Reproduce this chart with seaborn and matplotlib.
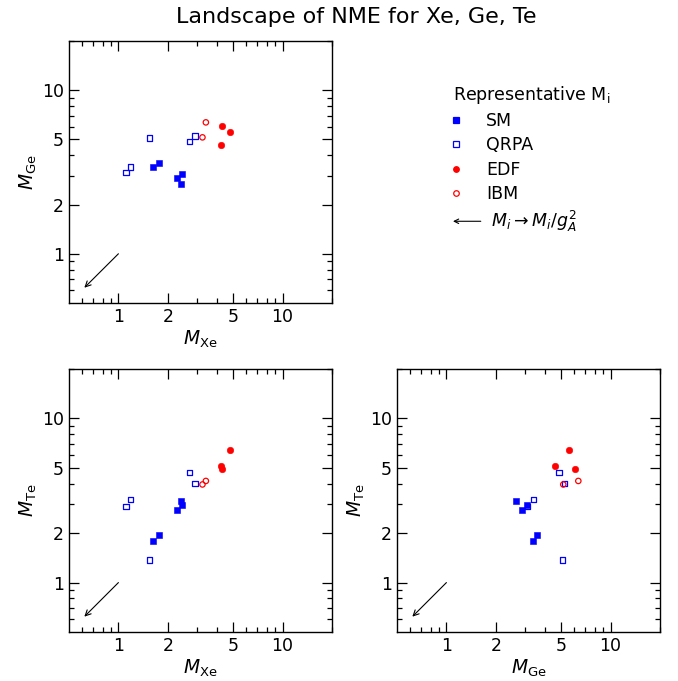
import numpy as np
import pandas as pd
import matplotlib
matplotlib.use("Agg")
import matplotlib.pyplot as plt
import matplotlib.ticker as mticker
from matplotlib.lines import Line2D
from matplotlib.patches import FancyArrowPatch
from matplotlib.legend_handler import HandlerLine2D, HandlerBase
import seaborn as sns

# Nuclear matrix elements per model: (Xe, Ge, Te) for each calculation
models = ["SM"] * 5 + ["QRPA"] * 5 + ["EDF"] * 3 + ["IBM"] * 2
m_xe = [1.63, 1.76, 2.28, 2.45, 2.40,
        1.11, 1.18, 1.55, 2.72, 2.92,
        4.25, 4.81, 4.21,
        3.25, 3.41]
m_ge = [3.38, 3.58, 2.90, 3.08, 2.67,
        3.13, 3.40, 5.10, 4.85, 5.25,
        6.04, 5.55, 4.61,
        5.15, 6.36]
m_te = [1.80, 1.94, 2.77, 2.96, 3.16,
        2.91, 3.22, 1.37, 4.68, 4.01,
        4.90, 6.39, 5.14,
        3.96, 4.16]

g_A = 1.27
axis_limits = (0.5, 20)
major_ticks = [1, 2, 5, 10]
minor_ticks = [0.6, 0.7, 0.8, 0.9, 3, 4, 6, 7, 8, 9, 20]

df = pd.DataFrame({"model": models, "Xe": m_xe, "Ge": m_ge, "Te": m_te})

styles = {
    "SM":   dict(marker="s", color="#0000ff", filled=True),
    "QRPA": dict(marker="s", color="#0000ff", filled=False),
    "EDF":  dict(marker="o", color="#ff0000", filled=True),
    "IBM":  dict(marker="o", color="#ff0000", filled=False),
}

plt.rcParams["font.family"] = ["DejaVu Sans"]
plt.rcParams["mathtext.fontset"] = "dejavusans"

fig = plt.figure(figsize=(6.78, 6.81), dpi=100)
W, H = 678, 681


def add_axes_px(left, top, right, bottom):
    return fig.add_axes([left / W, 1 - bottom / H, (right - left) / W, (bottom - top) / H])


panels = [
    (add_axes_px(69, 41, 332, 303), "Xe", "Ge"),
    (add_axes_px(69, 369, 332, 632), "Xe", "Te"),
    (add_axes_px(397, 369, 660, 632), "Ge", "Te"),
]

for ax, xk, yk in panels:
    for name, st in styles.items():
        sub = df[df["model"] == name]
        if st["filled"]:
            sns.scatterplot(data=sub, x=xk, y=yk, ax=ax, marker=st["marker"],
                            s=22, color=st["color"], edgecolor=st["color"],
                            linewidth=0.4, legend=False, zorder=3)
        else:
            sns.scatterplot(data=sub, x=xk, y=yk, ax=ax, marker=st["marker"],
                            s=15, facecolor="none", edgecolor=st["color"],
                            linewidth=0.9, legend=False, zorder=3)
    ax.set_xscale("log")
    ax.set_yscale("log")
    ax.set_xlim(*axis_limits)
    ax.set_ylim(*axis_limits)
    for axis in (ax.xaxis, ax.yaxis):
        axis.set_major_locator(mticker.FixedLocator(major_ticks))
        axis.set_major_formatter(mticker.FixedFormatter([str(t) for t in major_ticks]))
        axis.set_minor_locator(mticker.FixedLocator(minor_ticks))
        axis.set_minor_formatter(mticker.NullFormatter())
    ax.tick_params(which="both", direction="in", top=True, right=True, width=0.9)
    ax.tick_params(which="major", length=7, labelsize=12.5)
    ax.tick_params(which="minor", length=3.5)
    for sp in ax.spines.values():
        sp.set_linewidth(1.0)
    ax.set_xlabel(rf"$M_\mathrm{{{xk}}}$", fontsize=13.5, labelpad=2)
    ax.set_ylabel(rf"$M_\mathrm{{{yk}}}$", fontsize=13.5, labelpad=2.5)
    # effect of quenching: M -> M / g_A^2
    ax.annotate("", xy=(1 / g_A**2, 1 / g_A**2), xytext=(1, 1),
                arrowprops=dict(arrowstyle="->", lw=0.8, color="black",
                                shrinkA=0, shrinkB=0))

fig.suptitle("Landscape of NME for Xe, Ge, Te", fontsize=16, x=356 / W, y=0.99)


class LeftMarkerHandler(HandlerLine2D):
    """Single legend marker placed near the left end of the handle box."""
    def create_artists(self, legend, orig_handle, xdescent, ydescent,
                       width, height, fontsize, trans):
        x = -xdescent + 0.12 * width
        y = (height - ydescent) / 2
        mark = Line2D([x], [y])
        self.update_prop(mark, orig_handle, legend)
        mark.set_linestyle("none")
        mark.set_transform(trans)
        return [mark]


class ArrowHandler(HandlerBase):
    def create_artists(self, legend, orig_handle, xdescent, ydescent,
                       width, height, fontsize, trans):
        y = height / 2 - ydescent
        arr = FancyArrowPatch((width - xdescent, y), (-xdescent, y),
                              arrowstyle="->", mutation_scale=8, lw=0.8,
                              color="black", transform=trans,
                              shrinkA=0, shrinkB=0)
        return [arr]


handles = []
for name, st in styles.items():
    handles.append(Line2D([], [], linestyle="none", marker=st["marker"], markersize=4,
                          markerfacecolor=st["color"] if st["filled"] else "none",
                          markeredgecolor=st["color"], markeredgewidth=0.9))
arrow_handle = Line2D([], [], color="black")
handles.append(arrow_handle)
labels = list(styles.keys()) + [r" $M_i \rightarrow M_i/g_A^2$"]

handler_map = {h: LeftMarkerHandler() for h in handles[:4]}
handler_map[arrow_handle] = ArrowHandler()

fig.legend(handles, labels, handler_map=handler_map, loc="upper left",
           bbox_to_anchor=(453 / W, 1 - 84 / H), frameon=False, fontsize=12.5,
           title=r"Representative M$_\mathrm{i}$", title_fontsize=12.5,
           borderpad=0, borderaxespad=0, handlelength=1.6, handletextpad=0.3,
           labelspacing=0.36, alignment="left")

fig.savefig("out.png", dpi=100)
